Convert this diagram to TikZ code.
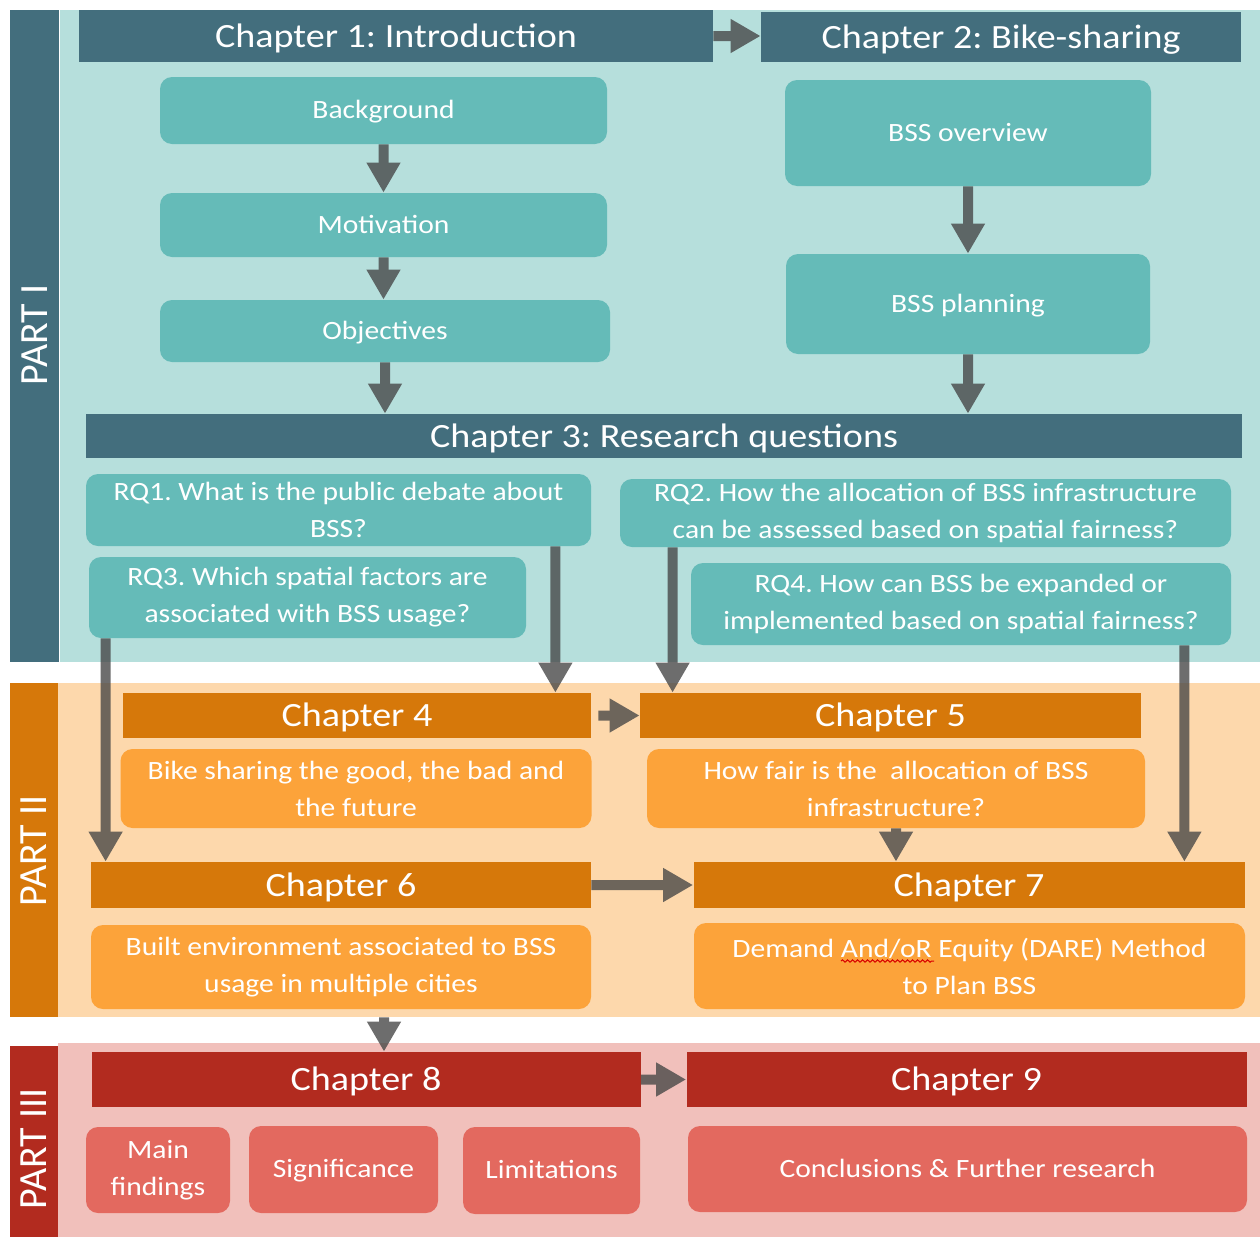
\documentclass[tikz,border=0pt]{standalone}
\usepackage{fontspec}
\setmainfont{Carlito}[FakeStretch=1.12]
\newfontfamily\partfont{Carlito}
\usetikzlibrary{arrows.meta,calc,decorations.pathmorphing}
\frenchspacing

\definecolor{oneDark}{HTML}{436E7D}
\definecolor{oneLight}{HTML}{B6DFDC}
\definecolor{oneBox}{HTML}{65BBB8}
\definecolor{twoDark}{HTML}{D6780A}
\definecolor{twoLight}{HTML}{FDD8AC}
\definecolor{twoBox}{HTML}{FCA33A}
\definecolor{threeDark}{HTML}{B22B1F}
\definecolor{threeLight}{HTML}{F1C0BB}
\definecolor{threeBox}{HTML}{E3695F}
\definecolor{arrowGray}{HTML}{454545}

\newcommand\hdrfont{\fontsize{17}{20}\selectfont}
\newcommand\bodyfont{\fontsize{13.2}{18.5}\selectfont}

\begin{document}
\begin{tikzpicture}[x=0.5pt, y=-0.5pt,
  sz/.style 2 args={minimum width=#1*0.5pt, minimum height=#2*0.5pt},
  hdr/.style={fill=#1, text=white, inner sep=0pt, font=\hdrfont,
              text height=11pt, text depth=0pt},
  card/.style={fill=#1, rounded corners=6pt, text=white, align=center,
               inner sep=0pt, font=\bodyfont},
  single/.style={text height=8.2pt, text depth=0pt},
  partlbl/.style={text=white, rotate=90, inner sep=0pt,
                  font=\partfont\fontsize{20}{24}\selectfont},
  flow/.style={draw=arrowGray, line width=5pt,
               -{Triangle[length=15pt, width=16pt]}}]

\useasboundingbox (0,0) rectangle (1260,1237);
\fill[white] (0,0) rectangle (1260,1237);

% part bands
\fill[oneLight]   (60,10)   rectangle (1260,662);
\fill[oneDark]    (10,10)   rectangle (59,662);
\fill[twoLight]   (58,683)  rectangle (1260,1017);
\fill[twoDark]    (10,683)  rectangle (58,1017);
\fill[threeLight] (58,1043) rectangle (1260,1237);
\fill[threeDark]  (10,1046) rectangle (58,1237);

\node[partlbl] (p1) at (35,335)  {PART I};
\node[partlbl] (p2) at (34,851)  {PART II};
\node[partlbl] (p3) at (34,1149) {PART III};

% Part I
\node[hdr=oneDark, sz={634}{52}]  (c1) at (396,36)   {Chapter 1: Introduction};
\node[hdr=oneDark, sz={480}{50}]  (c2) at (1001,37)  {Chapter 2: Bike-sharing};
\node[card=oneBox, single, sz={447}{67}]  (bg)  at (383.5,110.5) {Background};
\node[card=oneBox, single, sz={447}{64}]  (mot) at (383.5,225)   {Motivation};
\node[card=oneBox, single, sz={450}{62}]  (obj) at (385,331)     {Objectives};
\node[card=oneBox, single, sz={366}{106}] (ov)  at (968,133)     {BSS overview};
\node[card=oneBox, single, sz={364}{100}] (pl)  at (968,304)     {BSS planning};
\node[hdr=oneDark, sz={1156}{44}] (c3) at (664,436)  {Chapter 3: Research questions};
\node[card=oneBox, sz={505}{72}] (rq1) at (338.5,510)
  {RQ1. What is the public debate about\\BSS?};
\node[card=oneBox, sz={611}{68}] (rq2) at (925.5,513)
  {RQ2. How the allocation of BSS infrastructure\\can be assessed based on spatial fairness?};
\node[card=oneBox, sz={437}{81}] (rq3) at (307.5,597.5)
  {RQ3. Which spatial factors are\\associated with BSS usage?};
\node[card=oneBox, sz={540}{82}] (rq4) at (961,604)
  {RQ4. How can BSS be expanded or\\implemented based on spatial fairness?};

% Part II
\node[hdr=twoDark, sz={468}{45}] (c4) at (357,715.5) {Chapter 4};
\node[hdr=twoDark, sz={501}{45}] (c5) at (890.5,715.5) {Chapter 5};
\node[card=twoBox, sz={471}{79}] (b4) at (356,788.5)
  {Bike sharing the good, the bad and\\the future};
\node[card=twoBox, sz={498}{79}] (b5) at (896,788.5)
  {How fair is the~~allocation of BSS\\infrastructure?};
\node[hdr=twoDark, sz={500}{46}] (c6) at (341,885) {Chapter 6};
\node[hdr=twoDark, sz={551}{46}] (c7) at (969,885) {Chapter 7};
\node[card=twoBox, sz={500}{84}] (b6) at (341,967)
  {Built environment associated to BSS\\usage in multiple cities};
\node[card=twoBox, sz={551}{86}] (b7) at (969.5,966)
  {Demand And/oR Equity (DARE) Method\\to Plan BSS};
\draw[red!85!black, line width=0.5pt, decorate,
      decoration={snake, amplitude=0.6pt, segment length=2.5pt}]
  (841,961) -- (934,961);

% Part III
\node[hdr=threeDark, sz={549}{55}] (c8) at (366,1079.5)   {Chapter 8};
\node[hdr=threeDark, sz={560}{55}] (c9) at (966.5,1079.5) {Chapter 9};
\node[card=threeBox, sz={144}{86}] (mf)  at (158,1170)    {Main\\findings};
\node[card=threeBox, single, sz={189}{87}] (sig) at (343.5,1169.5) {Significance};
\node[card=threeBox, single, sz={177}{87}] (lim) at (551.5,1170.5) {Limitations};
\node[card=threeBox, single, sz={559}{86}] (con) at (967.5,1169)
  {Conclusions \& Further research};

% connectors
\coordinate (r1o) at ($(rq1.south east)+(-36,0)$);
\coordinate (r2o) at ($(rq2.south west)+(53,0)$);
\coordinate (r3o) at ($(rq3.south west)+(17,0)$);
\coordinate (r4o) at ($(rq4.south east)+(-47,0)$);
\coordinate (b6o) at ($(b6.south)+(43,8)$);

\begin{scope}[transparency group, opacity=0.78]
\draw[flow] (c1.east) -- (c1.east -| c2.west);
\draw[flow] (bg.south) -- (mot.north);
\draw[flow] (mot.south) -- (mot.south |- obj.north);
\draw[flow] (obj.south) -- (obj.south |- c3.north);
\draw[flow] (ov.south) -- (pl.north);
\draw[flow] (pl.south) -- (pl.south |- c3.north);
\draw[flow] (r1o) -- (r1o |- c4.north);
\draw[flow] (r2o) -- (r2o |- c5.north);
\draw[flow] (r3o) -- (r3o |- c6.north);
\draw[flow] (r4o) -- (r4o |- c7.north);
\draw[flow, shorten <=3.5pt] (c4.east) -- (c4.east -| c5.west);
\draw[flow] (b5.south) -- (b5.south |- c7.north);
\draw[flow] (c6.east) -- (c6.east -| c7.west);
\draw[flow] (b6o) -- (b6o |- c8.north);
\draw[flow] (c8.east) -- (c8.east -| c9.west);
\end{scope}
\end{tikzpicture}
\end{document}
